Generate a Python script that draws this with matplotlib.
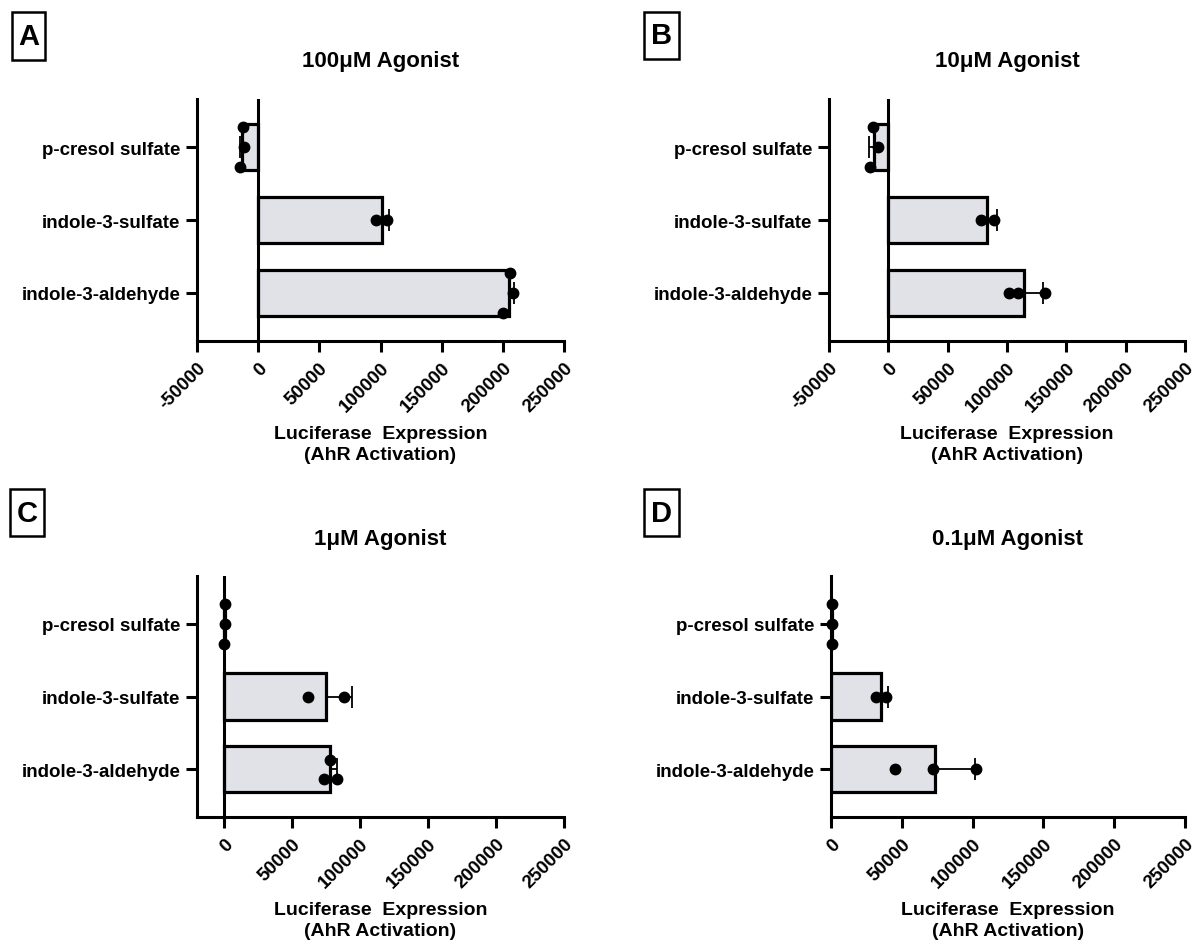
import numpy as np
import matplotlib
matplotlib.use('Agg')
import matplotlib.pyplot as plt
from matplotlib.patches import Rectangle

plt.rcParams['font.family'] = ['Liberation Sans', 'DejaVu Sans']
plt.rcParams['font.weight'] = 'bold'

compounds = ['p-cresol sulfate', 'indole-3-sulfate', 'indole-3-aldehyde']
panel_letters = ['A', 'B', 'C', 'D']
panel_titles = ['100μM Agonist', '10μM Agonist', '1μM Agonist', '0.1μM Agonist']

# replicate luciferase readings: p-cresol sulfate, indole-3-sulfate, indole-3-aldehyde
reps_100uM = [[-12500, -11500, -15000], [96700, 105200], [206000, 208300, 199800]]
reps_10uM = [[-13000, -8500, -15500], [78000, 89000], [101900, 109400, 132100]]
reps_1uM = [[600, 700, -400], [61700, 88300], [77900, 73100, 82700]]
reps_01uM = [[400, 500, 400], [32000, 39000], [45100, 72100, 102200]]
all_reps = [reps_100uM, reps_10uM, reps_1uM, reps_01uM]

# vertical spread of the replicate dots inside each bar
jitter_100uM = [[-0.27, 0, 0.27], [0, 0], [-0.27, 0, 0.27]]
jitter_10uM = [[-0.27, 0, 0.27], [0, 0], [0, 0, 0]]
jitter_1uM = [[-0.27, 0, 0.27], [0, 0], [-0.13, 0.13, 0.13]]
jitter_01uM = [[-0.27, 0, 0.27], [0, 0], [0, 0, 0]]
all_jitter = [jitter_100uM, jitter_10uM, jitter_1uM, jitter_01uM]

x_min = [-50000, -50000, -20000, 0]
x_max = 250000
x_ticks_ab = [-50000, 0, 50000, 100000, 150000, 200000, 250000]
x_ticks_cd = [0, 50000, 100000, 150000, 200000, 250000]
all_ticks = [x_ticks_ab, x_ticks_ab, x_ticks_cd, x_ticks_cd]

W, H = 1199, 945
fig = plt.figure(figsize=(W / 100, H / 100), dpi=100)


def fx(x):
    return x / W


def fy(y):
    return 1 - y / H


# axes boxes in pixels: left, right, top, bottom
boxes = [(197, 564, 100, 342), (829, 1185, 100, 342),
         (197, 564, 577, 818), (831, 1185, 577, 818)]
letter_boxes = [(12, 45, 13, 61), (644, 679, 13, 60), (10, 44, 490, 537), (644, 679, 490, 537)]

for i in range(4):
    l, r, t, b = boxes[i]
    ax = fig.add_axes([fx(l), fy(b), fx(r) - fx(l), (b - t) / H])
    reps = all_reps[i]
    jit = all_jitter[i]
    ypos = np.arange(len(compounds))
    means = np.array([np.mean(v) for v in reps])
    sds = np.array([np.std(v, ddof=1) for v in reps])
    lower = np.where(means < 0, sds, 0)
    upper = np.where(means >= 0, sds, 0)

    ax.barh(ypos, means, height=0.64, color='#e1e2e7', edgecolor='black',
            linewidth=2.3, zorder=2)
    ax.errorbar(means, ypos, xerr=[lower, upper], fmt='none', ecolor='black',
                elinewidth=1.3, capsize=8, capthick=1.3, zorder=3)
    for y, vals, offs in zip(ypos, reps, jit):
        ax.plot(vals, [y + o for o in offs], 'o', color='black', ms=7.5,
                mec='black', zorder=4, clip_on=False)

    if x_min[i] < 0:
        ax.axvline(0, color='black', lw=2.2, zorder=3)

    ax.set_xlim(x_min[i], x_max)
    ax.set_ylim(2.66, -0.66)
    ax.set_yticks(ypos)
    ax.set_yticklabels(compounds, fontsize=13.5, fontweight='bold')
    ax.set_xticks(all_ticks[i])
    ax.set_xticklabels([str(t) for t in all_ticks[i]], rotation=45, ha='right',
                       rotation_mode='anchor', fontsize=13.5, fontweight='bold')
    ax.tick_params(direction='out', length=8, width=2.2, pad=4)
    ax.tick_params(axis='x', pad=5)
    for side in ['top', 'right']:
        ax.spines[side].set_visible(False)
    for side in ['left', 'bottom']:
        ax.spines[side].set_linewidth(2.2)

    cx = (l + r) / 2
    fig.text(fx(cx), fy(t - 38), panel_titles[i], ha='center', va='center',
             fontsize=16, fontweight='bold')
    fig.text(fx(cx), fy(b + 103), 'Luciferase  Expression\n(AhR Activation)',
             ha='center', va='center', fontsize=14, fontweight='bold', linespacing=1.25)

    bl, br, bt, bb = letter_boxes[i]
    fig.add_artist(Rectangle((fx(bl), fy(bb)), fx(br) - fx(bl), (bb - bt) / H,
                             transform=fig.transFigure, fill=False,
                             edgecolor='black', linewidth=1.8))
    fig.text(fx((bl + br) / 2), fy((bt + bb) / 2), panel_letters[i], ha='center',
             va='center', fontsize=21, fontweight='bold')

fig.savefig('out.png', dpi=100)
